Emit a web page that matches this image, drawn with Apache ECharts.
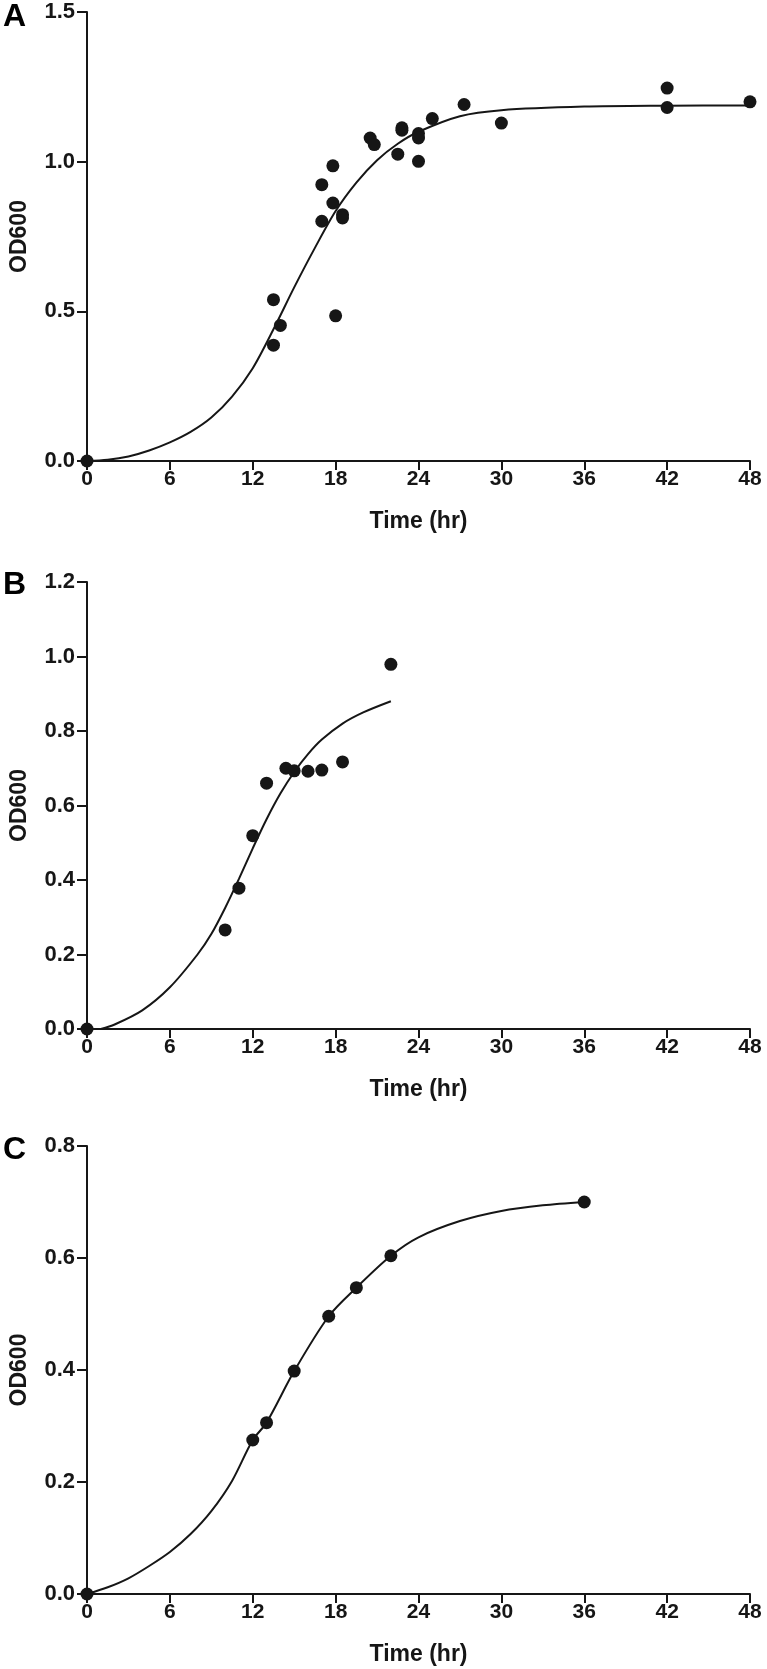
<!DOCTYPE html>
<html>
<head>
<meta charset="utf-8">
<script src="https://cdn.jsdelivr.net/npm/echarts@6/dist/echarts.min.js"></script>
<style>
html,body{margin:0;padding:0;background:#fff;}
#chart{width:767px;height:1669px;}
</style>
</head>
<body>
<div id="chart"></div>
<script>
// ---------- Data ----------
// Panel A
var aPointsT = [0, 13.5, 14.0, 13.5, 17.0, 17.8, 17.8, 17.0, 18.5, 18.5, 18.0, 20.5, 20.8, 22.8, 22.8, 22.5, 24.0, 24.0, 24.0, 25.0, 27.3, 30.0, 42.0, 42.0, 48.0];
var aPointsOD = [0, 0.539, 0.453, 0.387, 0.923, 0.986, 0.862, 0.801, 0.823, 0.812, 0.485, 1.079, 1.057, 1.105, 1.113, 1.025, 1.094, 1.079, 1.001, 1.144, 1.191, 1.129, 1.246, 1.181, 1.200];
var aCurveT = [0, 1.5, 3, 4.5, 6, 7.5, 9, 10.5, 12, 13.5, 15, 16.5, 18, 19.5, 21, 22.5, 24, 27, 30, 36, 42, 48];
var aCurveOD = [0, 0.004, 0.015, 0.035, 0.062, 0.097, 0.145, 0.215, 0.31, 0.44, 0.58, 0.712, 0.835, 0.93, 1.005, 1.06, 1.10, 1.152, 1.172, 1.184, 1.187, 1.188];

// Panel B
var bPointsT = [0, 10.0, 11.0, 12.0, 13.0, 14.4, 15.0, 16.0, 17.0, 18.5, 22.0];
var bPointsOD = [0, 0.266, 0.378, 0.519, 0.660, 0.700, 0.693, 0.692, 0.695, 0.717, 0.979];
var bCurveT = [1, 2, 4, 6, 8, 9, 10, 11, 12, 13, 14, 15, 16, 17, 18.5, 20, 22];
var bCurveOD = [0, 0.012, 0.05, 0.112, 0.2, 0.255, 0.325, 0.403, 0.485, 0.563, 0.632, 0.69, 0.738, 0.777, 0.82, 0.85, 0.88];

// Panel C
var cPointsT = [0, 12.0, 13.0, 15.0, 17.5, 19.5, 22.0, 36.0];
var cPointsOD = [0, 0.275, 0.306, 0.398, 0.496, 0.547, 0.604, 0.700];
var cCurveT = [0, 1.5, 3, 4.5, 6, 7.5, 9, 10.5, 12, 13, 15, 17.5, 19.5, 22, 24, 27, 30, 33, 36];
var cCurveOD = [0, 0.012, 0.028, 0.05, 0.075, 0.107, 0.148, 0.202, 0.275, 0.306, 0.398, 0.496, 0.547, 0.604, 0.637, 0.666, 0.684, 0.694, 0.70];

// Axes
var xTicks = [0, 6, 12, 18, 24, 30, 36, 42, 48];
var yMaxes = [1.5, 1.2, 0.8];
var yIntervals = [0.5, 0.2, 0.2];
var panelLetters = ['A', 'B', 'C'];
var xAxisTitle = 'Time (hr)';
var yAxisTitle = 'OD600';

// ---------- Chart ----------
var FONT = '"Liberation Sans", Arial, Helvetica, sans-serif';
var INK = '#161616';
function pair(t, v) { return t.map(function (x, i) { return [x, v[i]]; }); }

var grids = [
  { left: 79, right: 17, top: 12, height: 449 },
  { left: 79, right: 17, top: 582, height: 447 },
  { left: 79, right: 17, top: 1146, height: 448 }
];

var xAxes = [], yAxes = [];
for (var i = 0; i < 3; i++) {
  xAxes.push({
    type: 'value', gridIndex: i, min: xTicks[0], max: xTicks[xTicks.length - 1], interval: 6,
    name: xAxisTitle, nameLocation: 'middle', nameGap: 49,
    nameTextStyle: { fontFamily: FONT, fontWeight: 'bold', fontSize: 23, color: INK },
    axisLine: { show: true, onZero: false, lineStyle: { color: INK, width: 2 } },
    axisTick: { show: true, length: 9, inside: false, lineStyle: { color: INK, width: 2 } },
    axisLabel: { margin: 8, fontFamily: FONT, fontWeight: 'bold', fontSize: 21, color: INK },
    splitLine: { show: false }
  });
  yAxes.push({
    type: 'value', gridIndex: i, min: 0, max: yMaxes[i], interval: yIntervals[i],
    name: yAxisTitle, nameLocation: 'middle', nameGap: 56,
    nameTextStyle: { fontFamily: FONT, fontWeight: 'bold', fontSize: 23, color: INK },
    axisLine: { show: true, onZero: false, lineStyle: { color: INK, width: 2 } },
    axisTick: { show: true, length: 10, lineStyle: { color: INK, width: 2 } },
    axisLabel: { margin: 12, fontFamily: FONT, fontWeight: 'bold', fontSize: 22, color: INK,
      formatter: function (v) { return v.toFixed(1); } },
    splitLine: { show: false }
  });
}

var pts = [pair(aPointsT, aPointsOD), pair(bPointsT, bPointsOD), pair(cPointsT, cPointsOD)];
var crv = [pair(aCurveT, aCurveOD), pair(bCurveT, bCurveOD), pair(cCurveT, cCurveOD)];
var series = [];
for (var k = 0; k < 3; k++) {
  series.push({
    type: 'line', xAxisIndex: k, yAxisIndex: k, data: crv[k], smooth: 0.3,
    showSymbol: false, lineStyle: { color: INK, width: 2 }, z: 2, silent: true
  });
  series.push({
    type: 'scatter', xAxisIndex: k, yAxisIndex: k, data: pts[k], symbol: 'circle', symbolSize: 13,
    itemStyle: { color: INK, opacity: 1 }, clip: false, z: 3, silent: true
  });
}

var letterTops = [1, 569, 1134];
var graphics = panelLetters.map(function (L, i) {
  return { type: 'text', left: 3, top: letterTops[i],
    style: { text: L, font: 'bold 32px ' + FONT, fill: '#000' } };
});

var chart = echarts.init(document.getElementById('chart'), null, { renderer: 'canvas' });
chart.setOption({
  animation: false,
  backgroundColor: '#fff',
  grid: grids,
  xAxis: xAxes,
  yAxis: yAxes,
  series: series,
  graphic: graphics
});
</script>
</body>
</html>
